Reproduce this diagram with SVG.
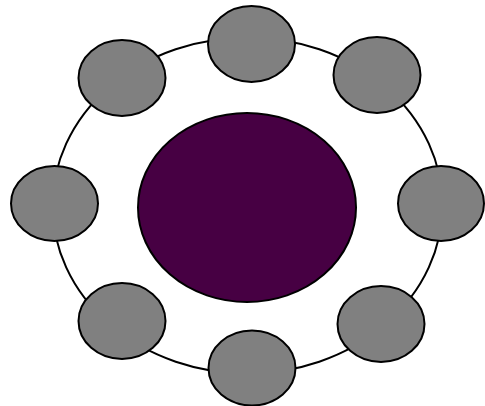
<svg xmlns="http://www.w3.org/2000/svg" width="485" height="406" viewBox="0 0 485 406">
<style>
.sat{fill:#808080;stroke:#000;stroke-width:2}
.ring{fill:none;stroke:#000;stroke-width:2}
.core{fill:#470043;stroke:#000;stroke-width:2}
</style>
<rect width="485" height="406" fill="#fff"/>
<g id="connectors">
<ellipse class="ring" cx="247.5" cy="205.5" rx="195" ry="168"/>
</g>
<g id="center"><ellipse class="core" cx="247" cy="207.5" rx="109" ry="94.5"/></g>
<g id="n-top"><ellipse class="sat" cx="251.5" cy="44" rx="43.5" ry="38"/></g>
<g id="n-topleft"><ellipse class="sat" cx="122" cy="78" rx="43.5" ry="38"/></g>
<g id="n-topright"><ellipse class="sat" cx="377" cy="75" rx="43.5" ry="38"/></g>
<g id="n-left"><ellipse class="sat" cx="54.5" cy="203.5" rx="43.5" ry="37.5"/></g>
<g id="n-right"><ellipse class="sat" cx="441" cy="203.5" rx="43" ry="37.5"/></g>
<g id="n-bottomleft"><ellipse class="sat" cx="122" cy="321" rx="43.5" ry="38"/></g>
<g id="n-bottomright"><ellipse class="sat" cx="381" cy="324" rx="43.5" ry="38"/></g>
<g id="n-bottom"><ellipse class="sat" cx="252" cy="368" rx="43.5" ry="37.5"/></g>
</svg>
